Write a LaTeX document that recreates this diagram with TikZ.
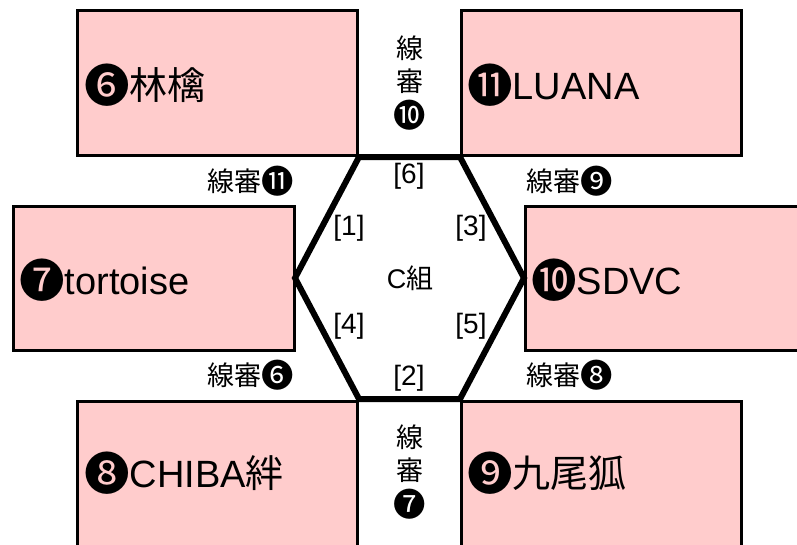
\documentclass[tikz,border=0pt]{standalone}
\usepackage{fontspec}
\setmainfont{Liberation Sans}
\newfontfamily\jp{Noto Sans CJK JP}
\definecolor{boxpink}{RGB}{255,204,204}
\newcommand\cnum[1]{{\jp\raisebox{-0.08em}{\scalebox{1.2}{#1}}}}
\begin{document}
\begin{tikzpicture}[x=1pt,y=-1pt,
  team/.style={draw=black,line width=3pt,fill=boxpink,rectangle,inner sep=0pt,outer sep=0pt,anchor=north west},
  big/.style={anchor=west,inner sep=0pt,font=\fontsize{38}{44}\selectfont},
  ref/.style={inner sep=0pt,font=\fontsize{27}{33}\selectfont\jp,align=center},
  lane/.style={inner sep=0pt,font=\fontsize{28}{32}\selectfont},
  hex/.style={line width=6pt,line join=miter}]
\useasboundingbox (0,0) rectangle (797,544);
\clip (0,0) rectangle (797,544);
% team boxes
\node[team,minimum width=280.4pt,minimum height=144.5pt] (tl) at (77.3,10.8) {};
\node[team,minimum width=280pt,minimum height=144.5pt] (tr) at (461.7,10.8) {};
\node[team,minimum width=281.4pt,minimum height=144.4pt] (ml) at (13.3,206.3) {};
\node[team,minimum width=290pt,minimum height=144.4pt] (mr) at (525,206.3) {};
\node[team,minimum width=280.4pt,minimum height=160pt] (bl) at (77.3,401) {};
\node[team,minimum width=280pt,minimum height=160pt] (br) at (461.7,401) {};
% labels in boxes
\node[big] (ltl) at (84,85) {\cnum{❻}{\jp 林檎}};
\node[big] (ltr) at (467,85) {\cnum{⓫}LUANA};
\node[big] (lml) at (19,280) {\cnum{❼}tortoise};
\node[big] (lmr) at (531,280) {\cnum{❿}SDVC};
\node[big] (lbl) at (84,473) {\cnum{❽}CHIBA{\jp 絆}};
\node[big] (lbr) at (467,473) {\cnum{❾}{\jp 九尾狐}};
% hexagon
\coordinate (h1) at (359,157);
\coordinate (h2) at (460,157);
\coordinate (h3) at (524,278);
\coordinate (h4) at (460,399);
\coordinate (h5) at (359,399);
\coordinate (h6) at (295,278);
\draw[hex] (h1) -- (h2) -- (h3) -- (h4) -- (h5) -- (h6) -- cycle;
% referee labels
\node[ref] (r10) at (410,83) {線\\審\\\cnum{❿}};
\node[ref] (r7) at (410,472) {線\\審\\\cnum{❼}};
\node[ref] (r11) at (251,181) {線審\cnum{⓫}};
\node[ref] (r9) at (570,181) {線審\cnum{❾}};
\node[ref] (r6) at (251,375) {線審\cnum{❻}};
\node[ref] (r8) at (570,375) {線審\cnum{❽}};
% lane labels
\node[lane] (c6) at (409,176) {[6]};
\node[lane] (c1) at (349,228) {[1]};
\node[lane] (c3) at (471,228) {[3]};
\node[lane] (c4) at (349,326) {[4]};
\node[lane] (c5) at (471,326) {[5]};
\node[lane] (c2) at (409,378) {[2]};
\node[lane,font=\fontsize{27}{32}\selectfont] (cc) at (410,278) {C{\jp 組}};
\end{tikzpicture}
\end{document}
